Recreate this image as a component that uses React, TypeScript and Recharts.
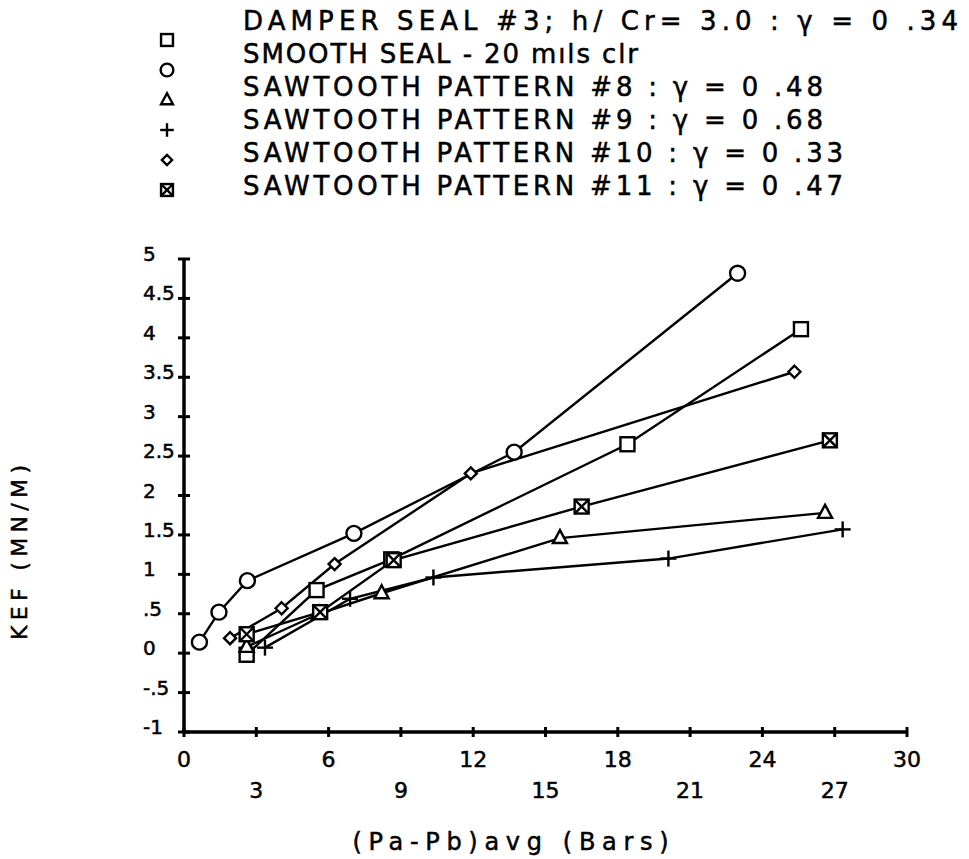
import React from 'react';
import { LineChart, Line, XAxis, YAxis, Legend, ReferenceLine } from 'recharts';

// ---------- data ----------
const xTicks = [0, 3, 6, 9, 12, 15, 18, 21, 24, 27, 30];
const yTicks = [-1, -0.5, 0, 0.5, 1, 1.5, 2, 2.5, 3, 3.5, 4, 4.5, 5];
const yTickLabels = ['-1', '-.5', '0', '.5', '1', '1.5', '2', '2.5', '3', '3.5', '4', '4.5', '5'];

const damperX = [2.6, 5.5, 8.6, 18.4, 25.6];
const damperY = [-0.02, 0.8, 1.19, 2.65, 4.11];
const smoothX = [0.64, 1.45, 2.63, 7.05, 13.7, 22.97];
const smoothY = [0.14, 0.52, 0.92, 1.52, 2.55, 4.82];
const saw8X = [2.6, 5.6, 8.2, 15.6, 26.6];
const saw8Y = [0.08, 0.5, 0.76, 1.46, 1.78];
const saw9X = [3.36, 6.89, 10.35, 20.1, 27.33];
const saw9Y = [0.07, 0.69, 0.96, 1.2, 1.57];
const saw10X = [1.91, 4.05, 6.25, 11.9, 25.33];
const saw10Y = [0.19, 0.57, 1.13, 2.28, 3.57];
const saw11X = [2.6, 5.65, 8.7, 16.5, 26.8];
const saw11Y = [0.24, 0.52, 1.18, 1.86, 2.7];

const seriesNames = [
  'DAMPER SEAL #3; h/ Cr= 3.0 : \u03b3 = 0 .34',
  'SMOOTH SEAL - 20 m\u0131ls clr',
  'SAWTOOTH PATTERN #8 : \u03b3 = 0 .48',
  'SAWTOOTH PATTERN #9 : \u03b3 = 0 .68',
  'SAWTOOTH PATTERN #10 : \u03b3 = 0 .33',
  'SAWTOOTH PATTERN #11 : \u03b3 = 0 .47',
];
const seriesMarkers = ['square', 'circle', 'triangle', 'plus', 'diamond', 'xsquare'];
const legendWidths = [715, 395, 580, 580, 600, 600];

const toPts = (xs: number[], ys: number[]) => xs.map((x, i) => ({ x, y: ys[i] }));
const seriesData = [
  toPts(damperX, damperY),
  toPts(smoothX, smoothY),
  toPts(saw8X, saw8Y),
  toPts(saw9X, saw9Y),
  toPts(saw10X, saw10Y),
  toPts(saw11X, saw11Y),
];

const FONT = '"DejaVu Sans", "Liberation Sans", sans-serif';
const SW = 2.4;
const TXT = { fill: '#000', stroke: '#000', strokeWidth: 0.5, fontFamily: FONT };

function Marker({ kind, cx, cy, scale = 1 }: { kind: string; cx: number; cy: number; scale?: number }) {
  const s = scale;
  const common = { fill: '#fff', stroke: '#000', strokeWidth: SW };
  switch (kind) {
    case 'square':
      return <rect x={cx - 7 * s} y={cy - 7 * s} width={14 * s} height={14 * s} {...common} />;
    case 'circle':
      return <circle cx={cx} cy={cy} r={7.5 * s} {...common} />;
    case 'triangle':
      return (
        <polygon
          points={`${cx},${cy - 8 * s} ${cx - 7 * s},${cy + 5 * s} ${cx + 7 * s},${cy + 5 * s}`}
          {...common}
        />
      );
    case 'plus':
      return (
        <g stroke="#000" strokeWidth={SW}>
          <line x1={cx - 8 * s} y1={cy} x2={cx + 8 * s} y2={cy} />
          <line x1={cx} y1={cy - 8 * s} x2={cx} y2={cy + 8 * s} />
        </g>
      );
    case 'diamond':
      return (
        <polygon
          points={`${cx},${cy - 6 * s} ${cx + 6 * s},${cy} ${cx},${cy + 6 * s} ${cx - 6 * s},${cy}`}
          {...common}
        />
      );
    case 'xsquare':
      return (
        <g>
          <rect x={cx - 7 * s} y={cy - 7 * s} width={14 * s} height={14 * s} {...common} />
          <line x1={cx - 7 * s} y1={cy - 7 * s} x2={cx + 7 * s} y2={cy + 7 * s} stroke="#000" strokeWidth={SW} />
          <line x1={cx + 7 * s} y1={cy - 7 * s} x2={cx - 7 * s} y2={cy + 7 * s} stroke="#000" strokeWidth={SW} />
        </g>
      );
    default:
      return null;
  }
}

const makeDot = (kind: string) => (props: any) => {
  const { cx, cy, index } = props;
  if (cx == null || cy == null) return <g key={index} />;
  return (
    <g key={`${kind}-${index}`}>
      <Marker kind={kind} cx={cx} cy={cy} />
    </g>
  );
};

const XTick = (props: any) => {
  const { x, y, payload } = props;
  const v = payload.value as number;
  const row2 = v % 6 !== 0;
  return (
    <g>
      <line x1={x} y1={y - 5} x2={x} y2={y + 5} stroke="#000" strokeWidth={3} />
      <text
        x={x}
        y={y + (row2 ? 58 : 27)}
        textAnchor="middle"
        dominantBaseline="central"
        fontSize={22}
        {...TXT}
      >
        {String(v)}
      </text>
    </g>
  );
};

const YTick = (props: any) => {
  const { x, y, payload } = props;
  const v = payload.value as number;
  const idx = yTicks.indexOf(v);
  return (
    <g>
      <line x1={x - 6} y1={y} x2={x + 6} y2={y} stroke="#000" strokeWidth={3} />
      <text
        x={x - 41}
        y={y - 5}
        textAnchor="start"
        dominantBaseline="central"
        fontSize={20}
        {...TXT}
      >
        {idx >= 0 ? yTickLabels[idx] : String(v)}
      </text>
    </g>
  );
};

const LegendContent = () => (
  <svg width={969} height={215} style={{ display: 'block' }}>
    {seriesNames.map((name, i) => (
      <g key={name}>
        <Marker kind={seriesMarkers[i]} cx={167} cy={40 + 30 * i} scale={0.85} />
        <text
          x={243}
          y={21 + 33 * i}
          dominantBaseline="central"
          fontSize={26}
          textLength={legendWidths[i]}
          lengthAdjust="spacing"
          {...TXT}
        >
          {name}
        </text>
      </g>
    ))}
  </svg>
);

export default function App() {
  return (
    <div style={{ position: 'absolute', left: 0, top: 0, width: 969, height: 859, background: '#fff' }}>
      <LineChart
        width={969}
        height={859}
        margin={{ top: 259, right: 62, bottom: 97, left: 144 }}
        style={{ fontFamily: FONT }}
      >
        <XAxis
          type="number"
          dataKey="x"
          domain={[0, 30]}
          ticks={xTicks}
          interval={0}
          height={30}
          tickSize={0}
          tickMargin={0}
          tickLine={false}
          stroke="#000"
          axisLine={{ stroke: '#000', strokeWidth: 3 }}
          tick={<XTick />}
          allowDataOverflow
          label={{
            content: (p: any) => {
              const vb = p.viewBox || { x: 184, y: 732, width: 723, height: 30 };
              return (
                <text
                  x={vb.x + vb.width / 2 - 35}
                  y={vb.y + 110}
                  textAnchor="middle"
                  dominantBaseline="central"
                  fontSize={24}
                  textLength={316}
                  lengthAdjust="spacing"
                  {...TXT}
                >
                  (Pa-Pb)avg  (Bars)
                </text>
              );
            },
          }}
        />
        <YAxis
          type="number"
          dataKey="y"
          domain={[-1, 5]}
          ticks={yTicks}
          interval={0}
          width={40}
          tickSize={0}
          tickMargin={0}
          tickLine={false}
          stroke="#000"
          axisLine={{ stroke: '#000', strokeWidth: 3 }}
          tick={<YTick />}
          allowDataOverflow
          label={{
            content: (p: any) => {
              const vb = p.viewBox || { x: 144, y: 259, width: 40, height: 473 };
              const cx = vb.x - 125;
              const cy = vb.y + vb.height / 2 + 57;
              return (
                <text
                  x={cx}
                  y={cy}
                  transform={`rotate(-90 ${cx} ${cy})`}
                  textAnchor="middle"
                  dominantBaseline="central"
                  fontSize={22}
                  textLength={175}
                  lengthAdjust="spacing"
                  {...TXT}
                >
                  KEF  (MN/M)
                </text>
              );
            },
          }}
        />
        <ReferenceLine x={0} stroke="#000" strokeWidth={3} ifOverflow="extendDomain" />
        <ReferenceLine y={-1} stroke="#000" strokeWidth={3} ifOverflow="extendDomain" />
        <Legend
          layout="horizontal"
          verticalAlign="middle"
          align="center"
          content={<LegendContent />}
          wrapperStyle={{ position: 'absolute', left: 0, top: 0, width: 969, height: 215 }}
        />
        {seriesData.map((d, i) => (
          <Line
            key={seriesNames[i]}
            name={seriesNames[i]}
            data={d}
            dataKey="y"
            type="linear"
            stroke="#000"
            strokeWidth={SW}
            dot={makeDot(seriesMarkers[i])}
            activeDot={false}
            isAnimationActive={false}
          />
        ))}
      </LineChart>
    </div>
  );
}
